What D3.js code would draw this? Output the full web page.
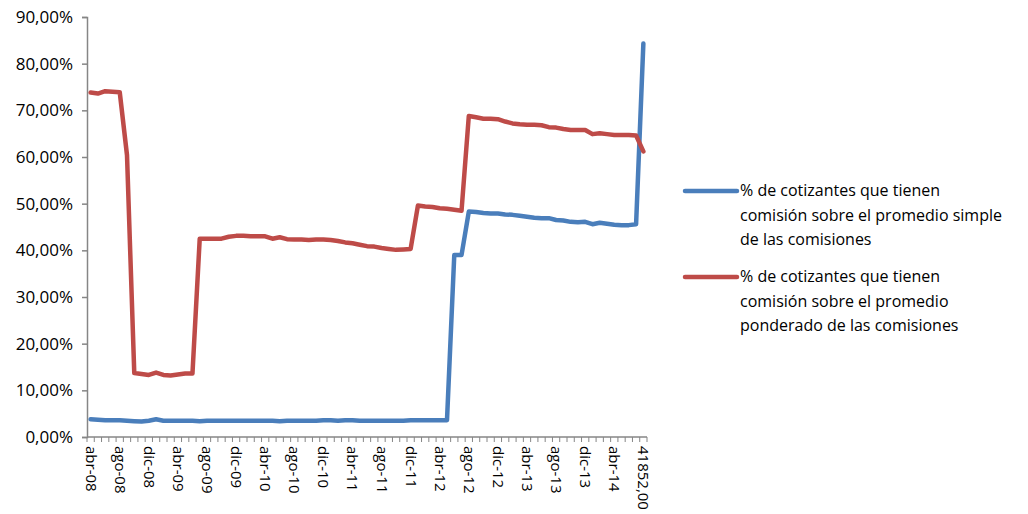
<!DOCTYPE html>
<html>
<head>
<meta charset="utf-8">
<script src="https://cdn.jsdelivr.net/npm/d3@7"></script>
<style>
  body { margin: 0; background: #fff; }
  text { font-family: "Open Sans", Lato, sans-serif; fill: #000; }
</style>
</head>
<body>
<script>
(function() {
// month labels, abr-08 .. ago-14
const months = ["ene", "feb", "mar", "abr", "may", "jun", "jul", "ago", "sep", "oct", "nov", "dic"];
const categories = [];
for (let k = 0; k < 77; k++) {
    const m = (3 + k) % 12;
    const yr = 8 + Math.floor((3 + k) / 12);
    categories.push(months[m] + "-" + (yr < 10 ? "0" + yr : yr));
}
categories[76] = "41852,00";

const simpleValues = [
    3.8, 3.7, 3.6, 3.6, 3.6, 3.5, 3.4, 3.3, 3.5, 3.8, 3.5, 3.5, 3.5, 3.5, 3.5, 3.4,
    3.5, 3.5, 3.5, 3.5, 3.5, 3.5, 3.5, 3.5, 3.5, 3.5, 3.4, 3.5, 3.5, 3.5, 3.5, 3.5,
    3.6, 3.6, 3.5, 3.6, 3.6, 3.5, 3.5, 3.5, 3.5, 3.5, 3.5, 3.5, 3.6, 3.6, 3.6, 3.6,
    3.6, 3.6, 39.0, 39.0, 48.3, 48.2, 48.0, 47.9, 47.9, 47.7, 47.6, 47.4, 47.2, 47.0,
    46.9, 46.9, 46.5, 46.4, 46.1, 46.0, 46.1, 45.6, 45.9, 45.7, 45.5, 45.4, 45.4, 45.6,
    84.3
];

const weightedValues = [
    73.8, 73.6, 74.1, 74.0, 73.9, 60.4, 13.7, 13.5, 13.3, 13.8, 13.3, 13.2, 13.4, 13.6,
    13.6, 42.5, 42.5, 42.5, 42.5, 42.9, 43.1, 43.1, 43.0, 43.0, 43.0, 42.5, 42.8, 42.4,
    42.3, 42.3, 42.2, 42.3, 42.3, 42.2, 42.0, 41.7, 41.5, 41.2, 40.9, 40.8, 40.5, 40.3,
    40.1, 40.2, 40.3, 49.6, 49.4, 49.3, 49.0, 48.9, 48.7, 48.5, 68.8, 68.5, 68.2, 68.2,
    68.1, 67.6, 67.2, 67.0, 66.9, 66.9, 66.8, 66.4, 66.3, 66.0, 65.8, 65.8, 65.8, 64.9,
    65.1, 64.9, 64.7, 64.7, 64.7, 64.6, 61.2
];

const yTicks = [0, 10, 20, 30, 40, 50, 60, 70, 80, 90];

const seriesNames = [
    ["% de cotizantes que tienen", "comisión sobre el promedio simple", "de las comisiones"],
    ["% de cotizantes que tienen", "comisión sobre el promedio", "ponderado de las comisiones"]
];
const seriesColors = ["#4A7EBB", "#BE4B48"];

const width = 1028, height = 514;
const plot = { left: 87, right: 647, top: 17, bottom: 437 };

const svg = d3.select("body").append("svg")
    .attr("width", width)
    .attr("height", height);

const x = d3.scaleBand().domain(d3.range(categories.length)).range([plot.left, plot.right]);
const y = d3.scaleLinear().domain([0, 90]).range([plot.bottom, plot.top]);

// Y axis
const yAxis = svg.append("g")
    .attr("transform", "translate(" + plot.left + ",0)")
    .call(d3.axisLeft(y).tickValues(yTicks).tickSize(5).tickPadding(9)
        .tickFormat(d => d.toFixed(2).replace(".", ",") + "%"));
yAxis.select(".domain").attr("stroke", "#868686").attr("stroke-width", 1.5);
yAxis.selectAll(".tick line").attr("stroke", "#868686").attr("stroke-width", 1.5);
yAxis.selectAll("text").style("font-size", "17px").attr("fill", "#000");

// X axis: small ticks between categories
const xg = svg.append("g");
xg.append("line")
    .attr("x1", plot.left).attr("x2", plot.right)
    .attr("y1", plot.bottom).attr("y2", plot.bottom)
    .attr("stroke", "#868686").attr("stroke-width", 1.5);
xg.selectAll(".xtick")
    .data(d3.range(categories.length + 1))
    .enter().append("line")
    .attr("x1", d => plot.left + d * x.step())
    .attr("x2", d => plot.left + d * x.step())
    .attr("y1", plot.bottom).attr("y2", plot.bottom + 5)
    .attr("stroke", "#868686").attr("stroke-width", 1);

xg.selectAll(".xlabel")
    .data(d3.range(0, categories.length, 4))
    .enter().append("text")
    .attr("transform", d => "translate(" + (x(d) + x.bandwidth() / 2 - 5) + "," + (plot.bottom + 9) + ") rotate(90)")
    .attr("text-anchor", "start")
    .style("font-size", "15px")
    .text(d => categories[d]);

// lines
const line = d3.line()
    .x((d, i) => x(i) + x.bandwidth() / 2)
    .y(d => y(d));

[simpleValues, weightedValues].forEach((vals, k) => {
    svg.append("path")
        .datum(vals)
        .attr("fill", "none")
        .attr("stroke", seriesColors[k])
        .attr("stroke-width", 4.5)
        .attr("stroke-linejoin", "round")
        .attr("stroke-linecap", "round")
        .attr("d", line);
});

// legend
const legendY = [191, 277];
seriesNames.forEach((lines, k) => {
    const g = svg.append("g").attr("transform", "translate(683," + legendY[k] + ")");
    g.append("line")
        .attr("x1", 2).attr("x2", 54)
        .attr("y1", 0).attr("y2", 0)
        .attr("stroke", seriesColors[k])
        .attr("stroke-width", 4.5)
        .attr("stroke-linecap", "round");
    g.selectAll("text")
        .data(lines)
        .enter().append("text")
        .attr("x", 57)
        .attr("y", (d, i) => 5 + i * 24.5)
        .style("font-size", "16px")
        .text(d => d);
});
})();
</script>
</body>
</html>
